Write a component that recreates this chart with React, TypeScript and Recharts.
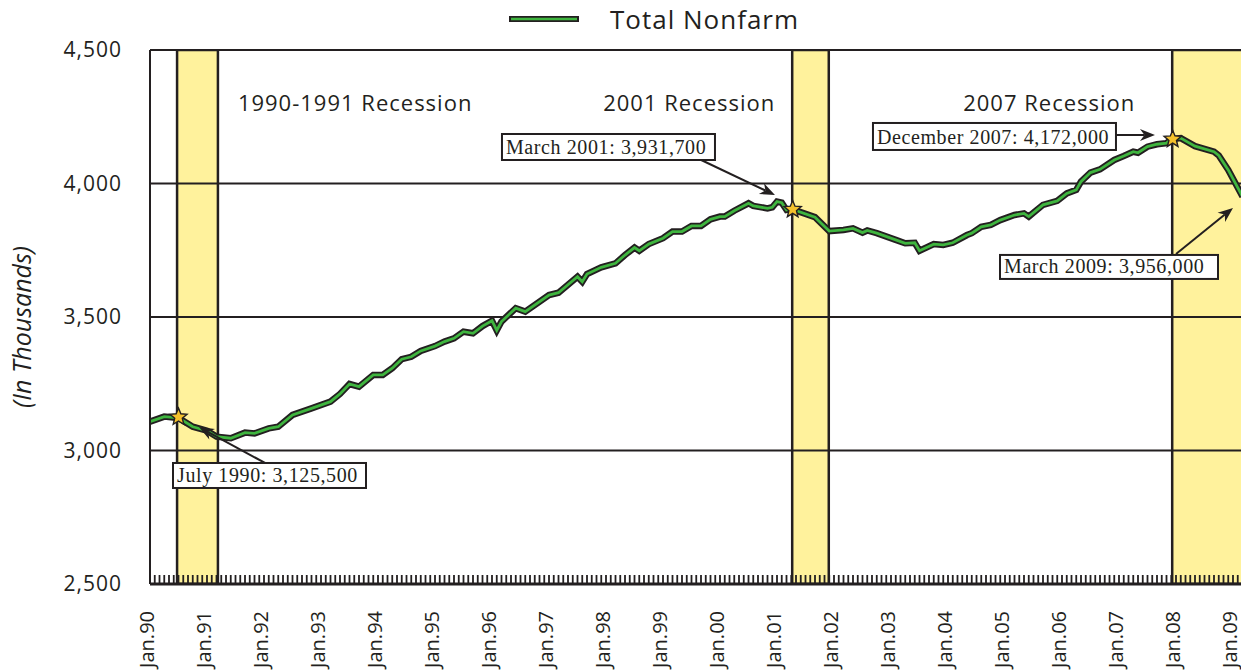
import React from 'react';
import {
  LineChart,
  Line,
  XAxis,
  YAxis,
  ReferenceArea,
  ReferenceLine,
  ReferenceDot,
  Legend,
} from 'recharts';

// months counted from Jan 1990 (0 = Jan.90)
const months = [
  0, 3, 6, 9, 12, 14, 17, 20, 22, 25, 27, 30, 34, 38, 40, 42, 44, 47, 49, 51, 53, 55, 57, 60, 62,
  64, 66, 68, 70, 72, 73, 74, 77, 79, 84, 86, 90, 91, 92, 95, 98, 100, 102, 103, 105, 108, 110,
  112, 114, 116, 118, 120, 121, 123, 126, 127, 130, 131, 132, 133, 134, 135, 140, 143, 146, 148,
  150, 151, 153, 157, 159, 161, 162, 165, 167, 169, 172, 173, 175, 177, 179, 182, 184, 185, 188,
  191, 193, 195, 196, 198, 200, 203, 205, 207, 208, 210, 212, 214, 215, 217, 220, 224, 225, 227,
  230,
];
// total nonfarm employment, thousands
const totalNonfarm = [
  3108, 3127, 3122, 3089, 3074, 3052, 3046, 3067, 3064, 3083, 3089, 3133, 3158, 3183, 3212, 3249,
  3239, 3283, 3283, 3308, 3342, 3351, 3373, 3391, 3408, 3420, 3445, 3439, 3466, 3486, 3450, 3483,
  3533, 3520, 3582, 3591, 3651, 3632, 3661, 3686, 3701, 3732, 3760, 3748, 3773, 3795, 3820, 3820,
  3841, 3841, 3866, 3876, 3876, 3898, 3926, 3916, 3907, 3911, 3932, 3928, 3901, 3905, 3874, 3822,
  3826, 3832, 3816, 3824, 3814, 3789, 3776, 3778, 3748, 3773, 3770, 3778, 3807, 3814, 3838, 3845,
  3863, 3882, 3888, 3876, 3920, 3935, 3963, 3976, 4007, 4041, 4053, 4088, 4103, 4119, 4115, 4138,
  4147, 4151, 4166, 4170, 4140, 4119, 4105, 4051, 3951,
];

const yearLabels = [
  'Jan.90', 'Jan.91', 'Jan.92', 'Jan.93', 'Jan.94', 'Jan.95', 'Jan.96', 'Jan.97', 'Jan.98',
  'Jan.99', 'Jan.00', 'Jan.01', 'Jan.02', 'Jan.03', 'Jan.04', 'Jan.05', 'Jan.06', 'Jan.07',
  'Jan.08', 'Jan.09',
];
const yTicks = [2500, 3000, 3500, 4000, 4500];

const recessionNames = ['1990-1991 Recession', '2001 Recession', '2007 Recession'];
const recessionStart = [5.7, 135.2, 215.2];
const recessionEnd = [14.3, 142.9, 240];

const calloutText = [
  'July 1990: 3,125,500',
  'March 2001: 3,931,700',
  'December 2007: 4,172,000',
  'March 2009: 3,956,000',
];
const calloutMonth = [6, 135.3, 215.3, 230];
const calloutValue = [3125.5, 3903, 4166, 3956];
const calloutStar = [true, true, true, false];

const data = months.map((m, i) => ({ month: m, nonfarm: totalNonfarm[i] }));
const monthTicks = Array.from({ length: 241 }, (_, i) => i);

const INK = '#231f20';
const GREEN = '#3fb53f';
const BAND = '#fff29c';
const GOLD = '#f4c12c';
const SANS = '"Open Sans", "Noto Sans", sans-serif';
const SERIF = '"Liberation Serif", "Times New Roman", serif';

// where the recession captions sit (month, value of baseline)
const recessionLabelAt = [
  [18.5, 4272],
  [95.4, 4270],
  [171.2, 4272],
];

// callout geometry relative to the anchor point, in px
const calloutLayout = [
  { box: [-5.5, 46, 193, 25], from: [86.5, 46], tip: [20.5, 10] },
  { box: [-290.7, -75.4, 213, 26], from: [-95.7, -51.4], tip: [-17.7, -14.4] },
  { box: [-299.7, -16.2, 243, 27], from: [-56.7, -4.2], tip: [-17.7, -4.2] },
  { box: [-242.5, 59.7, 218, 24], from: [-66.5, 58.7], tip: [-9.5, 12.7] },
];

const starPoints = (cx: number, cy: number, R: number, r: number) =>
  Array.from({ length: 10 }, (_, i) => {
    const a = -Math.PI / 2 + (i * Math.PI) / 5;
    const rad = i % 2 === 0 ? R : r;
    return `${cx + rad * Math.cos(a)},${cy + rad * Math.sin(a)}`;
  }).join(' ');

const Callout = ({ cx, cy, idx }: any) => {
  const L = calloutLayout[idx];
  const [bx, by, bw, bh] = L.box;
  const sx = cx + L.from[0];
  const sy = cy + L.from[1];
  const tx = cx + L.tip[0];
  const ty = cy + L.tip[1];
  const ang = Math.atan2(ty - sy, tx - sx);
  const ux = Math.cos(ang);
  const uy = Math.sin(ang);
  const head = 15;
  const half = 6;
  const baseX = tx - head * ux;
  const baseY = ty - head * uy;
  const notchX = tx - head * 0.7 * ux;
  const notchY = ty - head * 0.7 * uy;
  return (
    <g>
      <line x1={sx} y1={sy} x2={notchX} y2={notchY} stroke={INK} strokeWidth={2} />
      <polygon
        points={`${tx},${ty} ${baseX - half * uy},${baseY + half * ux} ${notchX},${notchY} ${baseX + half * uy},${baseY - half * ux}`}
        fill={INK}
      />
      <rect x={cx + bx} y={cy + by} width={bw} height={bh} fill="#fff" stroke={INK} strokeWidth={2} />
      <text
        x={cx + bx + 4}
        y={cy + by + bh - 6}
        fontFamily={SERIF}
        fontSize={20}
        letterSpacing={0.6}
        fill={INK}
      >
        {calloutText[idx]}
      </text>
      {calloutStar[idx] && (
        <polygon points={starPoints(cx, cy, 9, 4)} fill={GOLD} stroke={INK} strokeWidth={1.4} />
      )}
    </g>
  );
};

// every month gets a short inward tick; January gets the rotated label
const MonthTick = ({ x, y, payload }: any) => {
  const m = payload.value;
  const showLabel = m % 12 === 0 && m / 12 < yearLabels.length;
  const ty = y + 27;
  return (
    <g>
      <line x1={x} y1={y} x2={x} y2={y - 9} stroke={INK} strokeWidth={1.8} />
      {showLabel && (
        <text
          x={x}
          y={ty}
          dy={4}
          transform={`rotate(-90, ${x}, ${ty})`}
          textAnchor="end"
          fontFamily={SANS}
          fontSize={20}
          fill={INK}
        >
          {yearLabels[m / 12]}
        </text>
      )}
    </g>
  );
};

const YLabel = ({ viewBox }: any) => {
  const cx = viewBox.x + 31;
  const cy = viewBox.y + viewBox.height / 2 + 10;
  return (
    <text
      x={cx}
      y={cy}
      transform={`rotate(-90, ${cx}, ${cy})`}
      textAnchor="middle"
      fontFamily={SANS}
      fontStyle="italic"
      fontSize={25}
      fill={INK}
    >
      (In Thousands)
    </text>
  );
};

const LegendContent = ({ payload }: any) => {
  const item = (payload || []).find((p: any) => p.dataKey === 'nonfarm' && p.value) || {
    value: 'Total Nonfarm',
  };
  return (
    <div style={{ display: 'flex', alignItems: 'center', color: INK, fontFamily: SANS }}>
      <svg width={72} height={10}>
        <line x1={1} y1={5} x2={71} y2={5} stroke={INK} strokeWidth={6} />
        <line x1={3} y1={5} x2={69} y2={5} stroke={GREEN} strokeWidth={2.5} />
      </svg>
      <span style={{ marginLeft: 30, fontSize: 26, letterSpacing: 1, lineHeight: '30px' }}>
        {item.value}
      </span>
    </div>
  );
};

export default function App() {
  return (
    <div
      style={{
        position: 'fixed',
        left: 0,
        top: 0,
        width: 1241,
        height: 671,
        overflow: 'hidden',
        background: '#fff',
      }}
    >
      <LineChart
        width={1300}
        height={671}
        data={data}
        margin={{ top: 50, right: 10, bottom: 0, left: 0 }}
      >
        {recessionNames.map((name, i) => (
          <ReferenceArea
            key={name}
            x1={recessionStart[i]}
            x2={recessionEnd[i]}
            y1={2500}
            y2={4500}
            fill={BAND}
            fillOpacity={1}
            stroke={INK}
            strokeWidth={2.5}
            ifOverflow="hidden"
          />
        ))}
        {yTicks.slice(1).map((v) => (
          <ReferenceLine key={v} y={v} stroke={INK} strokeWidth={2} />
        ))}
        <XAxis
          type="number"
          dataKey="month"
          domain={[0, 240]}
          ticks={monthTicks}
          interval={0}
          height={87}
          tickSize={0}
          tickMargin={0}
          tickLine={false}
          axisLine={{ stroke: INK, strokeWidth: 3 }}
          tick={<MonthTick />}
        />
        <YAxis
          type="number"
          domain={[2500, 4500]}
          ticks={yTicks}
          width={150}
          tickLine={false}
          tickSize={0}
          tickMargin={28}
          axisLine={{ stroke: INK, strokeWidth: 2 }}
          tickFormatter={(v) => v.toLocaleString('en-US')}
          tick={{ fontFamily: SANS, fontSize: 21, fill: INK, letterSpacing: 1 }}
          label={<YLabel />}
        />
        <Legend
          verticalAlign="middle"
          align="center"
          content={<LegendContent />}
          wrapperStyle={{ left: 508, top: 4, width: 340 }}
        />
        <Line
          dataKey="nonfarm"
          stroke={INK}
          strokeWidth={6.5}
          dot={false}
          legendType="none"
          isAnimationActive={false}
        />
        <Line
          dataKey="nonfarm"
          name="Total Nonfarm"
          stroke={GREEN}
          strokeWidth={2.8}
          dot={false}
          isAnimationActive={false}
        />
        {recessionNames.map((name, i) => (
          <ReferenceDot
            key={`lbl-${name}`}
            x={recessionLabelAt[i][0]}
            y={recessionLabelAt[i][1]}
            ifOverflow="visible"
            shape={(p: any) => (
              <text
                x={p.cx}
                y={p.cy}
                fontFamily={SANS}
                fontSize={22}
                letterSpacing={1}
                fill={INK}
              >
                {name}
              </text>
            )}
          />
        ))}
        {calloutText.map((t, i) => (
          <ReferenceDot
            key={t}
            x={calloutMonth[i]}
            y={calloutValue[i]}
            ifOverflow="visible"
            shape={(p: any) => <Callout cx={p.cx} cy={p.cy} idx={i} />}
          />
        ))}
      </LineChart>
    </div>
  );
}
